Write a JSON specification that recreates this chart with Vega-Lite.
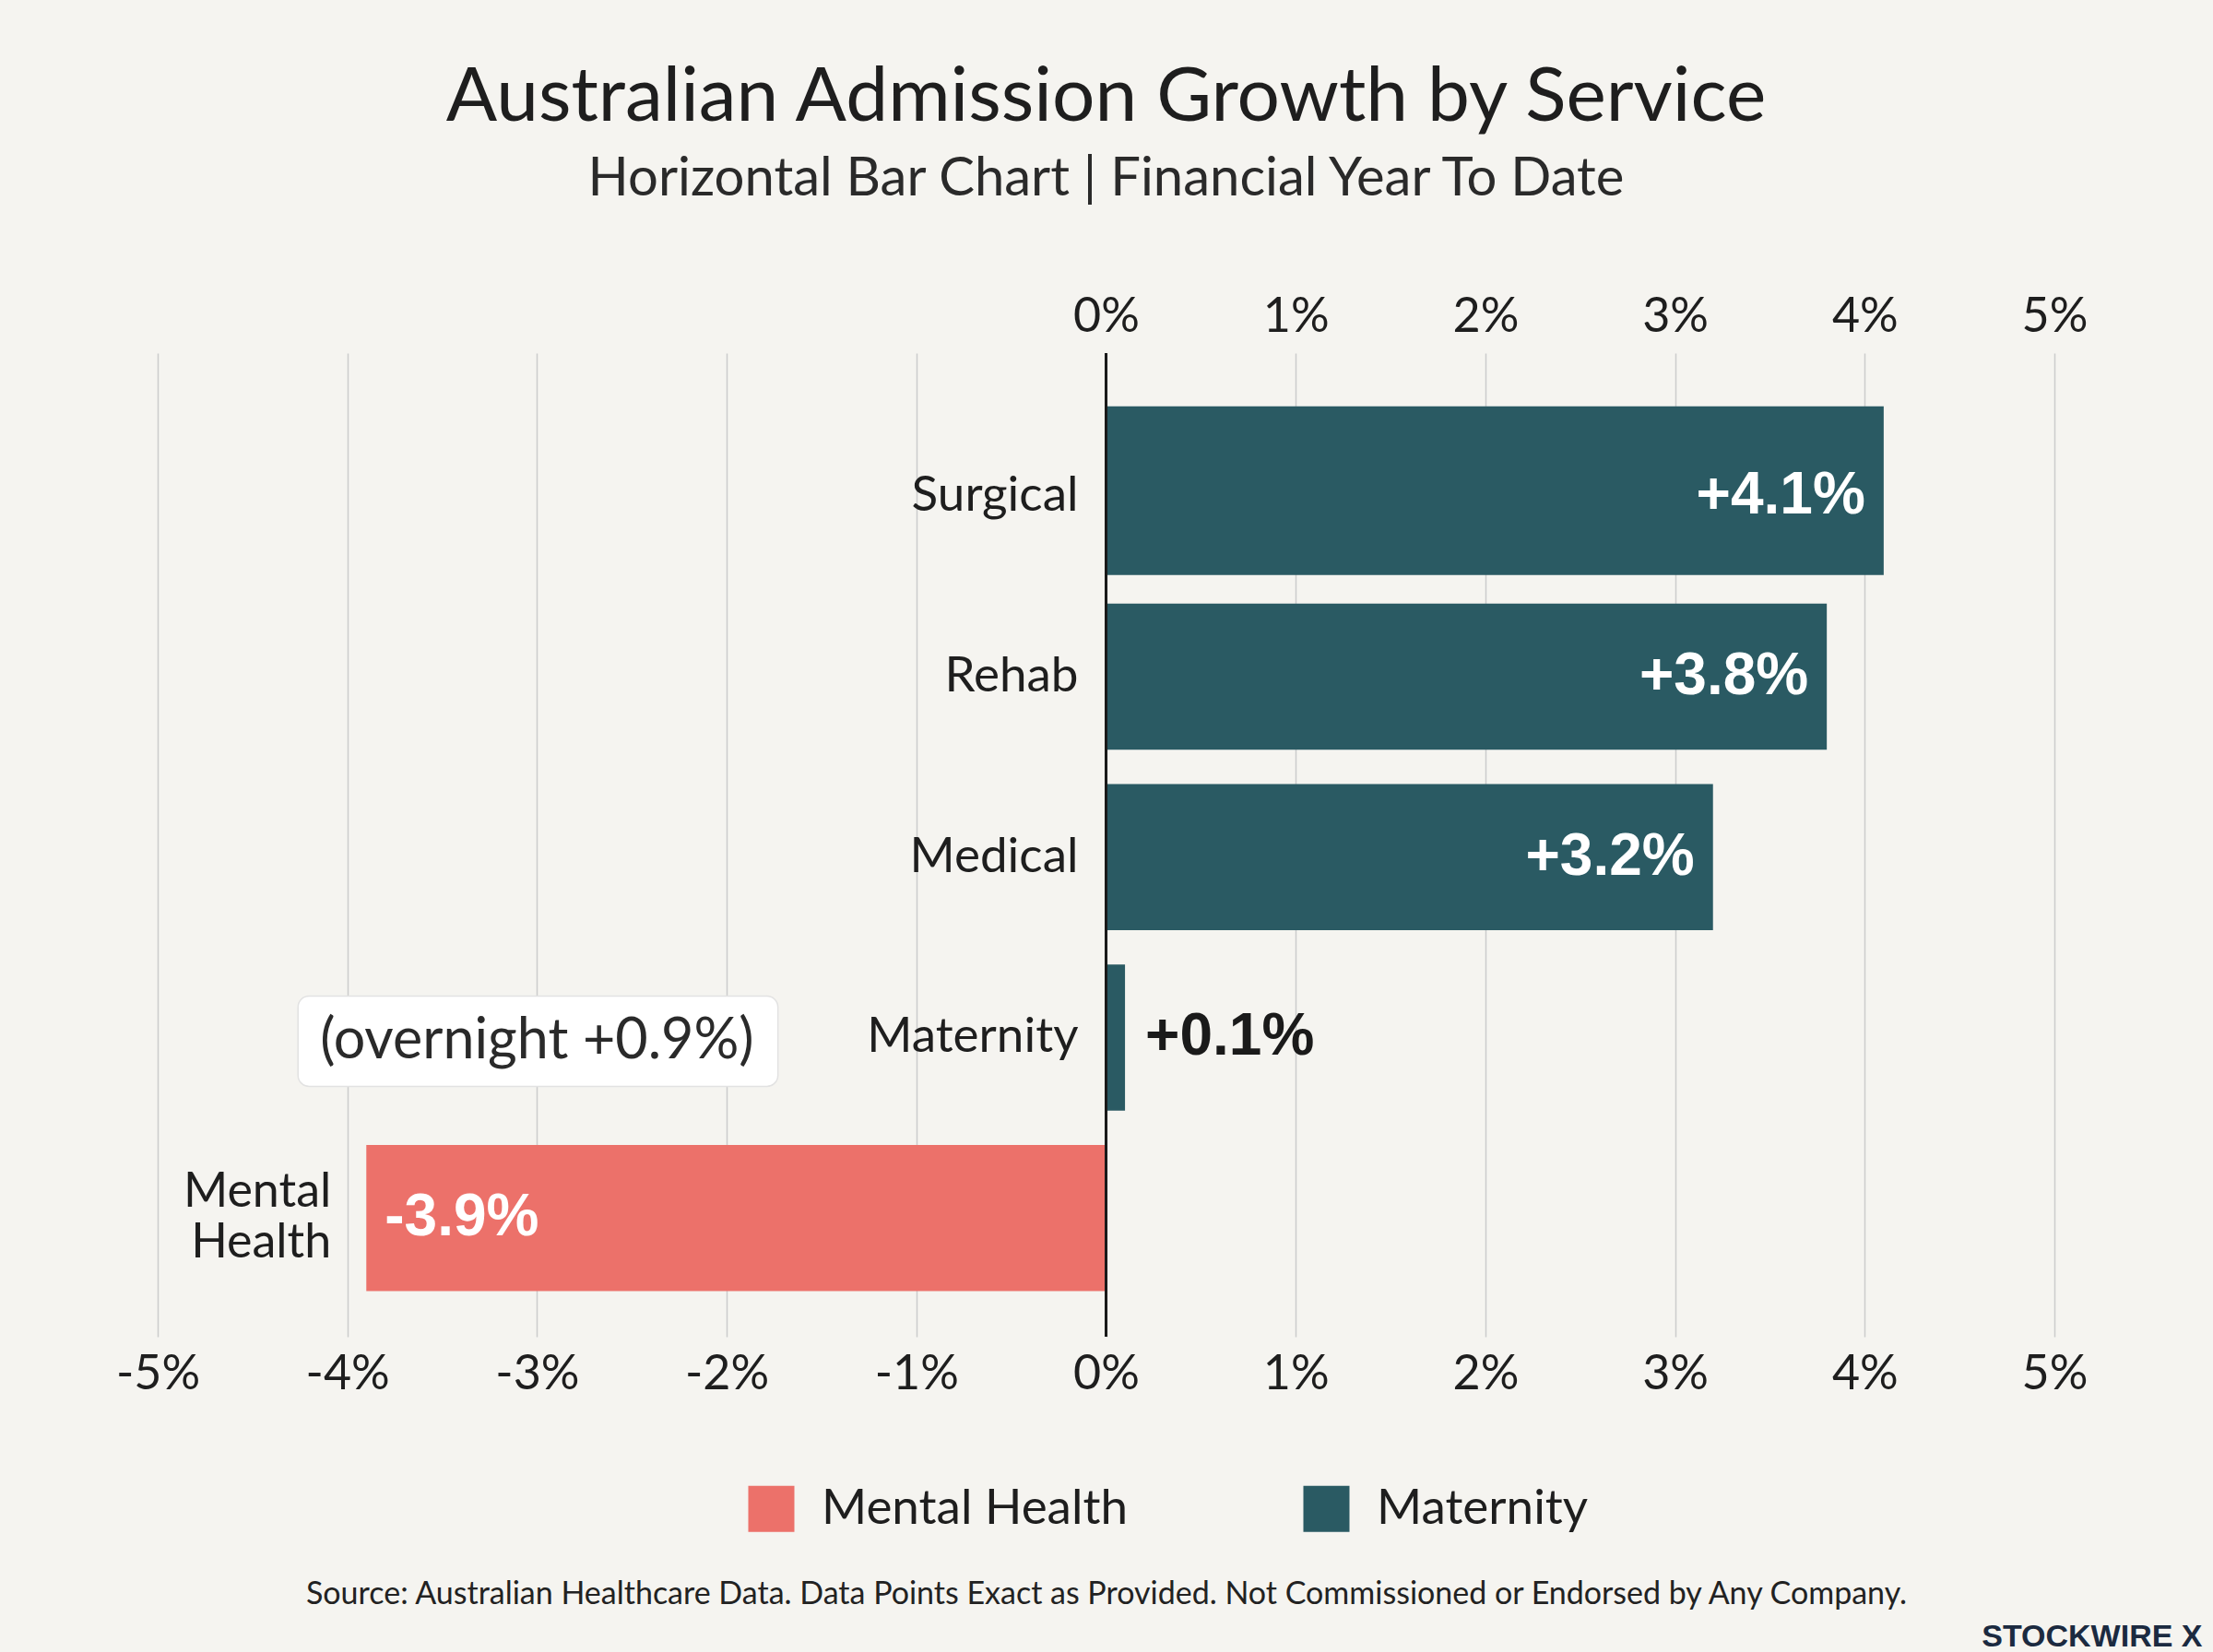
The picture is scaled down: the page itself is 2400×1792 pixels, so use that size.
{
  "$schema": "https://vega.github.io/schema/vega-lite/v6.json",
  "description": "Australian admission growth by service, horizontal bars.",
  "width": 2057,
  "height": 1067,
  "autosize": {"type": "none"},
  "padding": {"left": 171, "top": 383, "right": 172, "bottom": 342},
  "background": "#f5f4f0",
  "title": {
    "text": "Australian Admission Growth by Service",
    "subtitle": "Horizontal Bar Chart | Financial Year To Date",
    "anchor": "middle",
    "font": "Lato",
    "fontSize": 82,
    "fontWeight": "normal",
    "color": "#1e1e1e",
    "subtitleFont": "Lato",
    "subtitleFontSize": 58,
    "subtitleColor": "#2a2a2a",
    "subtitlePadding": 18,
    "offset": 92
  },
  "config": {"view": {"stroke": null}, "font": "Lato"},
  "datasets": {
    "services": [
      {"service": "Surgical", "display": "Surgical", "value": 4.1, "label": "+4.1%", "group": "Maternity"},
      {"service": "Rehab", "display": "Rehab", "value": 3.8, "label": "+3.8%", "group": "Maternity"},
      {"service": "Medical", "display": "Medical", "value": 3.2, "label": "+3.2%", "group": "Maternity"},
      {"service": "Maternity", "display": "Maternity", "value": 0.1, "label": "+0.1%", "group": "Maternity"},
      {"service": "Mental Health", "display": "Mental\nHealth", "value": -3.9, "label": "-3.9%", "group": "Mental Health"}
    ],
    "note": [
      {"service": "Maternity", "from": -4.26, "to": -1.73, "mid": -3.0, "text": "(overnight +0.9%)"}
    ]
  },
  "data": {"name": "services"},
  "layer": [
    {
      "transform": [{"filter": "datum.service !== 'Surgical'"}],
      "mark": {"type": "bar", "height": {"band": 0.81}},
      "encoding": {
        "x": {
          "field": "value",
          "type": "quantitative",
          "scale": {"domain": [-5, 5], "nice": false},
          "axis": {
            "orient": "bottom",
            "values": [-5, -4, -3, -2, -1, 0, 1, 2, 3, 4, 5],
            "labelExpr": "datum.value + '%'",
            "labelFlush": false,
            "labelOverlap": false,
            "grid": true,
            "gridColor": "#cccccc",
            "gridWidth": 1.5,
            "domain": false,
            "ticks": false,
            "tickSize": 0,
            "labelFont": "Lato",
            "labelFontSize": 52,
            "labelColor": "#1e1e1e",
            "labelPadding": 15,
            "title": "Source: Australian Healthcare Data. Data Points Exact as Provided. Not Commissioned or Endorsed by Any Company.",
            "titleFont": "Lato",
            "titleFontSize": 34,
            "titleFontWeight": "normal",
            "titleColor": "#222222",
            "titleBaseline": "alphabetic",
            "titleY": 289
          }
        },
        "y": {
          "field": "service",
          "type": "nominal",
          "scale": {
            "domain": ["Surgical", "Rehab", "Medical", "Maternity", "Mental Health"],
            "paddingInner": 0,
            "paddingOuter": 0.226,
            "align": 0.65
          },
          "axis": {
            "orient": "right",
            "labels": false,
            "ticks": false,
            "domain": false,
            "grid": false,
            "title": "STOCKWIRE X",
            "titleAngle": 0,
            "titleAlign": "right",
            "titleBaseline": "alphabetic",
            "titleX": 160,
            "titleY": 1402,
            "titleFont": "Liberation Sans",
            "titleFontSize": 34,
            "titleFontWeight": "bold",
            "titleColor": "#1b2a40"
          }
        },
        "color": {
          "field": "group",
          "type": "nominal",
          "scale": {"domain": ["Mental Health", "Maternity"], "range": ["#ec716a", "#2a5a63"]},
          "legend": {
            "orient": "none",
            "legendX": 639,
            "legendY": 1227,
            "direction": "horizontal",
            "title": null,
            "padding": 0,
            "symbolType": "square",
            "symbolSize": 2500,
            "symbolStrokeWidth": 0,
            "symbolOpacity": 1,
            "labelFont": "Lato",
            "labelFontSize": 53,
            "labelColor": "#1e1e1e",
            "labelLimit": 800,
            "labelOffset": 28,
            "columnPadding": 188
          }
        }
      }
    },
    {
      "transform": [{"filter": "datum.service === 'Surgical'"}],
      "mark": {"type": "bar", "height": {"band": 0.935}, "yOffset": -6},
      "encoding": {
        "x": {"field": "value", "type": "quantitative", "axis": null},
        "y": {"field": "service", "type": "nominal"},
        "color": {"field": "group", "type": "nominal"}
      }
    },
    {
      "mark": {"type": "rule", "color": "#1a1a1a", "strokeWidth": 2.5},
      "encoding": {
        "x": {
          "datum": 0,
          "type": "quantitative",
          "axis": {
            "orient": "top",
            "values": [0, 1, 2, 3, 4, 5],
            "labelExpr": "datum.value + '%'",
            "labelFlush": false,
            "labelOverlap": false,
            "grid": false,
            "domain": false,
            "ticks": false,
            "tickSize": 0,
            "labelFont": "Lato",
            "labelFontSize": 52,
            "labelColor": "#1e1e1e",
            "labelPadding": 13,
            "title": null
          }
        }
      }
    },
    {
      "data": {"name": "note"},
      "mark": {"type": "bar", "height": {"band": 0.5}, "fill": "#ffffff", "stroke": "#e2e2e2", "strokeWidth": 1.5, "cornerRadius": 12, "yOffset": 4},
      "encoding": {
        "x": {"field": "from", "type": "quantitative", "axis": null},
        "x2": {"field": "to"},
        "y": {"field": "service", "type": "nominal"}
      }
    },
    {
      "data": {"name": "note"},
      "mark": {"type": "text", "font": "Lato", "fontSize": 61, "color": "#2a2a2a", "align": "center", "baseline": "middle", "dy": 5},
      "encoding": {
        "x": {"field": "mid", "type": "quantitative", "axis": null},
        "y": {"field": "service", "type": "nominal"},
        "text": {"field": "text"}
      }
    },
    {
      "transform": [{"filter": "datum.value >= 0"}],
      "mark": {"type": "text", "font": "Lato", "fontSize": 53, "color": "#1e1e1e", "align": "right", "baseline": "middle", "dx": -30},
      "encoding": {
        "x": {"datum": 0, "type": "quantitative", "axis": null},
        "y": {"field": "service", "type": "nominal"},
        "text": {"field": "display"}
      }
    },
    {
      "transform": [{"filter": "datum.value < 0"}],
      "mark": {"type": "text", "font": "Lato", "fontSize": 52, "color": "#1e1e1e", "align": "right", "baseline": "middle", "dx": -38, "dy": -28, "lineBreak": "\n", "lineHeight": 55},
      "encoding": {
        "x": {"field": "value", "type": "quantitative", "axis": null},
        "y": {"field": "service", "type": "nominal"},
        "text": {"field": "display"}
      }
    },
    {
      "transform": [{"filter": "datum.value >= 1"}],
      "mark": {"type": "text", "font": "Liberation Sans", "fontWeight": "bold", "fontSize": 64, "color": "#ffffff", "align": "right", "baseline": "middle", "dx": -20},
      "encoding": {
        "x": {"field": "value", "type": "quantitative", "axis": null},
        "y": {"field": "service", "type": "nominal"},
        "text": {"field": "label"}
      }
    },
    {
      "transform": [{"filter": "datum.value >= 0 && datum.value < 1"}],
      "mark": {"type": "text", "font": "Liberation Sans", "fontWeight": "bold", "fontSize": 64, "color": "#1a1a1a", "align": "left", "baseline": "middle", "dx": 22},
      "encoding": {
        "x": {"field": "value", "type": "quantitative", "axis": null},
        "y": {"field": "service", "type": "nominal"},
        "text": {"field": "label"}
      }
    },
    {
      "transform": [{"filter": "datum.value < 0"}],
      "mark": {"type": "text", "font": "Liberation Sans", "fontWeight": "bold", "fontSize": 64, "color": "#ffffff", "align": "left", "baseline": "middle", "dx": 20},
      "encoding": {
        "x": {"field": "value", "type": "quantitative", "axis": null},
        "y": {"field": "service", "type": "nominal"},
        "text": {"field": "label"}
      }
    }
  ],
  "resolve": {"axis": {"x": "independent"}}
}
